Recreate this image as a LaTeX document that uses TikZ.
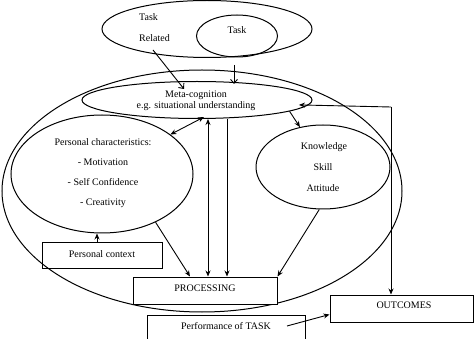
\documentclass[tikz,border=0pt]{standalone}
\usepackage{fontspec}
\setmainfont{Liberation Serif}
\usetikzlibrary{shapes.geometric,arrows.meta}
\begin{document}
\begin{tikzpicture}[x=1pt,y=-1pt,
  every node/.style={font=\fontsize{10}{12}\selectfont},
  oval/.style={draw,ellipse,inner sep=0pt,line width=1pt},
  box/.style={draw,rectangle,inner sep=0pt,line width=1pt},
  lbl/.style={inner sep=0pt},
  arr/.style={line width=0.9pt,-{Stealth[length=6pt,width=5pt]}},
  arro/.style={line width=0.9pt,-{Straight Barb[length=4pt,width=7pt]}},
  arrb/.style={line width=0.9pt,{Stealth[length=6pt,width=5pt]}-{Stealth[length=6pt,width=5pt]}}]
\clip (0,0) rectangle (474,339);
\fill[white] (0,0) rectangle (474,339);
% top ellipses
\node[oval,minimum width=210pt,minimum height=57pt] (taskrel) at (207,29) {};
\node[oval,minimum width=81pt,minimum height=42pt] (task) at (237,36) {};
\node[lbl,anchor=west] (tasklbl) at (139,17) {Task};
\node[lbl,anchor=west] (rellbl) at (139,38) {Related};
\node[lbl] (tasklbl2) at (237,30) {Task};
% big ellipse
\node[oval,minimum width=400pt,minimum height=242pt] (big) at (202,191) {};
% meta-cognition
\node[oval,minimum width=230pt,minimum height=37pt] (meta) at (197,100) {};
\node[lbl] (meta1) at (196,95) {Meta-cognition};
\node[lbl] (meta2) at (196,106) {e.g. situational understanding};
% personal characteristics
\node[oval,minimum width=182pt,minimum height=118pt] (pc) at (102,174) {};
\node[lbl] (pc1) at (103,142) {Personal characteristics:};
\node[lbl] (pc2) at (103,162) {- Motivation};
\node[lbl] (pc3) at (103,182) {- Self Confidence};
\node[lbl] (pc4) at (103,203) {- Creativity};
% knowledge
\node[oval,minimum width=134pt,minimum height=84pt] (kn) at (323,167) {};
\node[lbl] (kn1) at (324,147) {Knowledge};
\node[lbl] (kn2) at (323,167) {Skill};
\node[lbl] (kn3) at (323,188) {Attitude};
% boxes
\node[box,minimum width=120pt,minimum height=26pt] (ctx) at (102,256) {};
\node[lbl] (ctxl) at (102,254) {Personal context};
\node[box,fill=white,minimum width=144pt,minimum height=27pt] (proc) at (205,290.5) {};
\node[lbl] (procl) at (205,288) {PROCESSING};
\node[box,fill=white,minimum width=143pt,minimum height=27pt] (out) at (401.5,308.5) {};
\node[lbl] (outl) at (404,305) {OUTCOMES};
\node[box,fill=white,minimum width=158pt,minimum height=32pt] (perf) at (226,331) {};
\node[lbl] (perfl) at (226,326) {Performance of TASK};
% coordinates
\coordinate (trs) at (153,50);
\coordinate (tre) at (184,89);
\coordinate (tds) at (234,65);
\coordinate (tde) at (234,84);
\coordinate (corner) at (391,107);
\coordinate (pstart) at (287,326);
% connectors
\draw[arro] (trs) -- (tre);
\draw[arro] (tds) -- (tde);
\draw[arr] (corner) -- (corner |- out.north);
\draw[arr] (corner) -- ([yshift=4pt]meta.-5);
\draw[arr] (meta.-7) -- (kn.120);
\draw[arrb] (pc.30) -- ([xshift=7pt,yshift=2pt]meta.south);
\draw[arrb] ([xshift=11pt]meta.south) -- ([xshift=11pt]meta.south |- proc.north);
\draw[arr] ([xshift=30pt]meta.south) -- ([xshift=30pt]meta.south |- proc.north);
\draw[arr] (pc.-42) -- ([xshift=-15pt]proc.north);
\draw[arr] (kn.-95) -- (proc.north east);
\draw[arr] ([xshift=-5pt]ctx.north) -- ([xshift=-5pt]ctx.north |- pc.south);
\draw[arr] (pstart) -- ([yshift=-6pt]out.west);
\end{tikzpicture}
\end{document}
